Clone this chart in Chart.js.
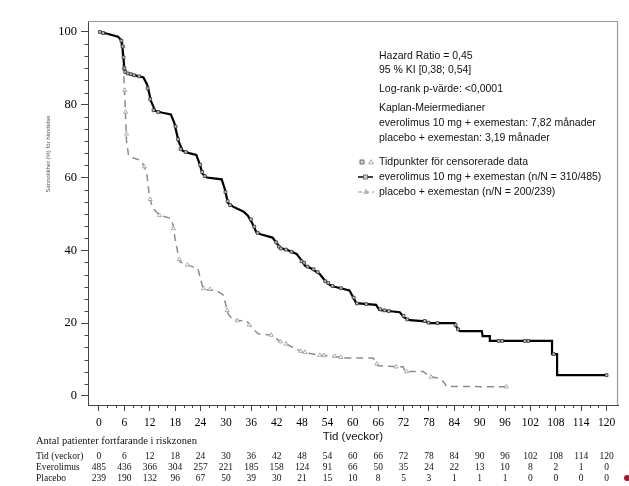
<!DOCTYPE html>
<html>
<head>
<meta charset="utf-8">
<script src="https://cdn.jsdelivr.net/npm/chart.js@4"></script>
<style>
  html, body { margin: 0; padding: 0; background: #fff; }
  canvas { display: block; }
</style>
</head>
<body>
<canvas id="km" width="629" height="486"></canvas>
<script>
// tick labels / at-risk table
const weekTicks = [0, 6, 12, 18, 24, 30, 36, 42, 48, 54, 60, 66, 72, 78, 84, 90, 96, 102, 108, 114, 120];
const riskEverolimus = [485, 436, 366, 304, 257, 221, 185, 158, 124, 91, 66, 50, 35, 24, 22, 13, 10, 8, 2, 1, 0];
const riskPlacebo = [239, 190, 132, 96, 67, 50, 39, 30, 21, 15, 10, 8, 5, 3, 1, 1, 1, 0, 0, 0, 0];
const yTicks = [0, 20, 40, 60, 80, 100];

// everolimus curve (weeks, % without event)
const evWeeks = [0, 2, 4.5, 5.4, 6.0, 6.3, 8, 10.5, 11.4, 12.3, 13.3, 15, 17, 17.8, 18.8, 19.8, 21.3, 23, 23.7, 24.5, 25.5, 29, 29.7, 30.5, 31.7, 34.2, 35.2, 36.2, 37.2, 38.2, 41, 42, 42.9, 44.7, 46.7, 47.7, 48.7, 50.2, 52.2, 53.2, 54.5, 55.7, 59.2, 59.9, 60.8, 65.5, 66.3, 71.1, 72.2, 73.5, 77.2, 78.2, 84.1, 84.7, 85.3, 90.5, 90.7, 92.4, 92.4, 107.1, 107.1, 108.3, 108.3, 120];
const evSurv = [100, 99.5, 98.7, 97.5, 90, 88.8, 88.2, 87.5, 85.5, 81, 78.3, 77.8, 77.3, 75, 70, 67.3, 66.7, 66.2, 64, 61, 60, 59.5, 57, 53, 52, 50.6, 49.5, 47.5, 45, 44.4, 43.5, 42, 40.6, 40, 39, 37.5, 35.8, 35, 33.5, 32, 30.5, 30, 29, 27.5, 25.5, 25, 23.6, 23, 21.5, 20.8, 20.5, 20, 20, 18.5, 17.8, 17.8, 16.4, 16.4, 15.1, 15.1, 11.5, 11.5, 5.7, 5.7];

// placebo curve
const pbWeeks = [0, 4, 4.9, 5.5, 6.0, 6.5, 7.0, 7.5, 9.9, 10.7, 11.3, 11.9, 12.5, 13.2, 14.4, 16.9, 17.5, 18, 18.7, 19.2, 21.4, 23.4, 24, 24.7, 27.7, 29.3, 30, 30.5, 31.7, 34.9, 36.2, 37.6, 41, 41.7, 42.7, 44.7, 46.3, 48.2, 51.4, 55.3, 58.5, 64.8, 65.5, 66, 71.9, 72.3, 76.6, 78.2, 80.6, 81.7, 82.1, 96.3];
const pbSurv = [100, 98.8, 98.2, 95, 85, 70, 66, 65.6, 64.7, 63, 61, 55, 52.2, 51, 49.6, 48.8, 47, 43, 39, 36.8, 35.8, 35, 32, 29.2, 29, 27.8, 25, 22.6, 20.8, 20.6, 18.7, 17.1, 16.7, 16, 15, 14, 13, 12, 11.3, 10.9, 10.4, 10.4, 9, 8.3, 8, 6.7, 6.7, 5.3, 4.8, 3.5, 2.6, 2.5];

// censored observations
const evCensWeeks = [0.2, 1.0, 5.3, 5.6, 5.8, 6.0, 6.2, 6.8, 7.5, 8.3, 9.5, 11.5, 12.1, 12.9, 14, 18.1, 18.7, 19.3, 20.5, 23.9, 24.4, 25, 29.9, 30.4, 31, 35.9, 36.7, 37.5, 41.9, 42.5, 43, 44.2, 45.5, 47.9, 48.5, 49.3, 50.7, 51.7, 53.5, 54.2, 55.2, 57.2, 60.2, 61, 63.2, 66.5, 67.5, 68.5, 72, 72.9, 77, 77.9, 80, 84.3, 84.9, 94.5, 95.3, 100.7, 101.5, 107.5, 120];
const evCensSurv = [100, 99.7, 97.6, 96, 93, 90, 89, 88.6, 88.4, 88.1, 87.8, 84.5, 81.5, 78.5, 78, 74, 70.5, 67.8, 67, 63.5, 61.5, 60.4, 56, 53.5, 52.4, 48.5, 46.5, 44.8, 42.2, 41, 40.5, 40.2, 39.6, 37, 36.6, 35.5, 34.8, 34, 31.5, 31, 30.2, 29.6, 27, 25.4, 25.2, 23.8, 23.5, 23.3, 22, 21, 20.6, 20.1, 20, 19.5, 18.3, 15.1, 15.1, 15.1, 15.1, 11.5, 5.7];
const pbCensWeeks = [5.7, 5.9, 6.1, 6.3, 6.5, 10.7, 12.1, 14.3, 17.6, 19.0, 20.9, 24.7, 26.2, 30.3, 32.7, 35.5, 40.7, 42.9, 44.2, 47.7, 48.7, 52.2, 53.2, 55.7, 57.2, 65.7, 70.2, 72.7, 78.5, 96.3];
const pbCensSurv = [96, 90, 84, 78, 72, 63, 54, 49.6, 46, 37.5, 36, 29.5, 29.3, 23.5, 20.7, 19.5, 16.7, 14.9, 14.3, 12.3, 12, 11.2, 11.1, 10.9, 10.6, 8.8, 8, 6.7, 5.2, 2.5];

const SERIF = '"Liberation Serif", "DejaVu Serif", serif';
const SANS = '"Liberation Sans", Arial, sans-serif';

const pts = (xs, ys) => xs.map((x, i) => ({ x: x, y: ys[i] }));

// minor ticks, frame, texts and the at-risk table
const extras = {
  id: 'extras',
  afterDraw(chart) {
    const ctx = chart.ctx;
    const xs = chart.scales.x;
    const ys = chart.scales.y;
    const area = chart.chartArea;
    ctx.save();

    // top / right frame
    ctx.strokeStyle = '#9a9a9a';
    ctx.lineWidth = 1.2;
    ctx.beginPath();
    ctx.moveTo(area.left, area.top + 0.5);
    ctx.lineTo(area.right - 0.5, area.top + 0.5);
    ctx.lineTo(area.right - 0.5, area.bottom);
    ctx.stroke();

    // minor ticks
    ctx.strokeStyle = '#444';
    ctx.lineWidth = 1;
    ctx.beginPath();
    for (let w = 0; w <= 120; w += 2) {
      if (w % 6 === 0) continue;
      const px = Math.round(xs.getPixelForValue(w)) + 0.5;
      ctx.moveTo(px, area.bottom);
      ctx.lineTo(px, area.bottom + 3);
    }
    for (let i = 0; i <= 30; i++) {
      if (i % 6 === 0) continue;
      const py = Math.round(ys.getPixelForValue(i * 20 / 6)) + 0.5;
      ctx.moveTo(area.left, py);
      ctx.lineTo(area.left - 3.5, py);
    }
    ctx.stroke();

    // y title
    ctx.fillStyle = '#555';
    ctx.font = '6px ' + SANS;
    ctx.textAlign = 'center';
    ctx.textBaseline = 'middle';
    ctx.save();
    ctx.translate(48, 154);
    ctx.rotate(-Math.PI / 2);
    ctx.fillText('Sannolikhet (%) för händelse', 0, 0);
    ctx.restore();

    // x title
    ctx.fillStyle = '#111';
    ctx.font = '11.5px ' + SANS;
    ctx.fillText('Tid (veckor)', (area.left + area.right) / 2, 437);

    // annotations
    ctx.textAlign = 'left';
    ctx.font = '10.5px ' + SANS;
    const tx = 379;
    ctx.fillText('Hazard Ratio = 0,45', tx, 56);
    ctx.fillText('95 % KI [0,38; 0,54]', tx, 70);
    ctx.fillText('Log-rank p-värde: <0,0001', tx, 89);
    ctx.fillText('Kaplan-Meiermedianer', tx, 108);
    ctx.fillText('everolimus 10 mg + exemestan: 7,82 månader', tx, 123);
    ctx.fillText('placebo + exemestan: 3,19 månader', tx, 138);
    ctx.fillText('Tidpunkter för censorerade data', tx, 162);
    ctx.fillText('everolimus 10 mg + exemestan (n/N = 310/485)', tx, 177);
    ctx.fillText('placebo + exemestan (n/N = 200/239)', tx, 192);

    // legend symbols
    const sq = (x, y) => {
      ctx.fillStyle = '#cfcfcf';
      ctx.fillRect(x - 2, y - 2, 4, 4);
      ctx.strokeStyle = '#555';
      ctx.lineWidth = 0.8;
      ctx.strokeRect(x - 2, y - 2, 4, 4);
    };
    const tri = (x, y) => {
      ctx.strokeStyle = '#999';
      ctx.lineWidth = 0.8;
      ctx.beginPath();
      ctx.moveTo(x, y - 2.3);
      ctx.lineTo(x + 2.3, y + 1.8);
      ctx.lineTo(x - 2.3, y + 1.8);
      ctx.closePath();
      ctx.stroke();
    };
    sq(362, 162);
    tri(371, 162);
    ctx.strokeStyle = '#111';
    ctx.lineWidth = 1.6;
    ctx.beginPath();
    ctx.moveTo(358, 177);
    ctx.lineTo(373, 177);
    ctx.stroke();
    sq(365.5, 177);
    ctx.strokeStyle = '#8c8c8c';
    ctx.lineWidth = 1.2;
    ctx.setLineDash([4, 3]);
    ctx.beginPath();
    ctx.moveTo(358, 192);
    ctx.lineTo(374, 192);
    ctx.stroke();
    ctx.setLineDash([]);
    tri(366, 191.5);

    // at-risk table
    ctx.fillStyle = '#111';
    ctx.textAlign = 'left';
    ctx.font = '10.5px ' + SERIF;
    ctx.fillText('Antal patienter fortfarande i riskzonen', 36, 441);
    ctx.font = '9.5px ' + SERIF;
    const rows = [['Tid (veckor)', weekTicks, 456], ['Everolimus', riskEverolimus, 467], ['Placebo', riskPlacebo, 478]];
    rows.forEach(r => {
      ctx.textAlign = 'left';
      ctx.fillText(r[0], 36, r[2]);
      ctx.textAlign = 'center';
      r[1].forEach((v, i) => {
        ctx.fillText(String(v), xs.getPixelForValue(weekTicks[i]), r[2]);
      });
    });

    // stray mark at the bottom right edge
    ctx.fillStyle = '#a3172d';
    ctx.beginPath();
    ctx.arc(627, 478, 3, 0, Math.PI * 2);
    ctx.fill();

    ctx.restore();
  }
};

new Chart(document.getElementById('km'), {
  type: 'line',
  data: {
    datasets: [
      {
        label: 'everolimus censored',
        data: pts(evCensWeeks, evCensSurv),
        showLine: false,
        pointStyle: 'rect',
        pointRadius: 2,
        pointBackgroundColor: '#c4c4c4',
        pointBorderColor: '#333',
        pointBorderWidth: 0.8,
      },
      {
        label: 'placebo censored',
        data: pts(pbCensWeeks, pbCensSurv),
        showLine: false,
        pointStyle: 'triangle',
        pointRadius: 2.4,
        pointBackgroundColor: '#fff',
        pointBorderColor: '#999',
        pointBorderWidth: 0.8,
      },
      {
        label: 'everolimus 10 mg + exemestan',
        data: pts(evWeeks, evSurv),
        borderColor: '#000',
        borderWidth: 2.2,
        pointRadius: 0,
        tension: 0,
      },
      {
        label: 'placebo + exemestan',
        data: pts(pbWeeks, pbSurv),
        borderColor: '#8c8c8c',
        borderWidth: 1.5,
        borderDash: [7, 5],
        pointRadius: 0,
        tension: 0,
      },
    ],
  },
  options: {
    responsive: false,
    animation: false,
    events: [],
    layout: { padding: { left: 0, right: 11, top: 21, bottom: 0 } },
    plugins: {
      legend: { display: false },
      tooltip: { enabled: false },
    },
    scales: {
      x: {
        type: 'linear',
        min: -2.6,
        max: 122.7,
        afterBuildTicks: scale => { scale.ticks = weekTicks.map(v => ({ value: v })); },
        afterFit: scale => { scale.height = 81; },
        ticks: {
          color: '#000',
          font: { family: SERIF, size: 11.5 },
          padding: 5,
          maxRotation: 0,
          autoSkip: false,
        },
        grid: { drawOnChartArea: false, drawTicks: true, tickLength: 6, color: '#444' },
        border: { color: '#444', width: 1 },
      },
      y: {
        min: -2.5,
        max: 103,
        afterBuildTicks: scale => { scale.ticks = yTicks.map(v => ({ value: v })); },
        afterFit: scale => { scale.width = 88; },
        ticks: {
          color: '#000',
          font: { family: SERIF, size: 12.5 },
          padding: 4,
          autoSkip: false,
        },
        grid: { drawOnChartArea: false, drawTicks: true, tickLength: 7, color: '#444' },
        border: { color: '#444', width: 1 },
      },
    },
  },
  plugins: [extras],
});
</script>
</body>
</html>
